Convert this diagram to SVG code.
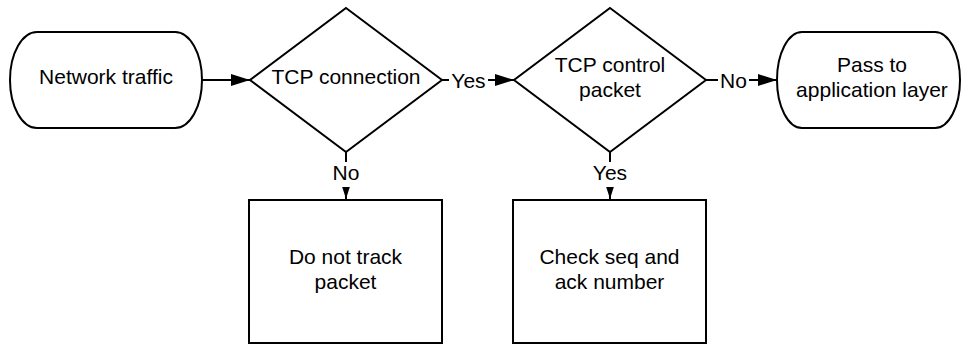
<svg xmlns="http://www.w3.org/2000/svg" width="962" height="346" viewBox="0 0 962 346">
  <defs>
    <marker id="arrow" viewBox="0 0 19 12" refX="19" refY="6" markerWidth="19" markerHeight="12" markerUnits="userSpaceOnUse" orient="auto">
      <path d="M0,0 L19,6 L0,12 z" fill="#000"/>
    </marker>
  </defs>
  <style>
    .shape { fill: #fff; stroke: #000; stroke-width: 2; }
    .edge { fill: none; stroke: #000; stroke-width: 2; marker-end: url(#arrow); }
    .label-bg { fill: #fff; stroke: none; }
    text { font-family: "Liberation Sans", Arial, sans-serif; font-size: 21px; fill: #000; text-anchor: middle; }
  </style>
  <rect width="962" height="346" fill="#fff"/>

  <!-- connectors with their labels -->
  <g id="connectors">
    <line class="edge" x1="202" y1="80" x2="250" y2="80"/>

    <line class="edge" x1="442" y1="80" x2="514" y2="80"/>
    <rect class="label-bg" x="449" y="68" width="39" height="24"/>
    <text x="468.5" y="88">Yes</text>

    <line class="edge" x1="706" y1="80" x2="777" y2="80"/>
    <rect class="label-bg" x="718" y="68" width="31" height="24"/>
    <text x="733.5" y="88">No</text>

    <line class="edge" x1="346" y1="152" x2="346" y2="199"/>
    <rect class="label-bg" x="328" y="162" width="36" height="25"/>
    <text x="346" y="180">No</text>

    <line class="edge" x1="610" y1="152" x2="610" y2="199"/>
    <rect class="label-bg" x="590" y="162" width="40" height="25"/>
    <text x="610" y="180">Yes</text>
  </g>

  <g id="network-traffic">
    <rect class="shape" x="10" y="32" width="192" height="96" rx="27" ry="48"/>
    <text x="106" y="84">Network traffic</text>
  </g>

  <g id="tcp-connection">
    <polygon class="shape" points="346,8 442,80 346,152 250,80"/>
    <text x="346" y="84">TCP connection</text>
  </g>

  <g id="tcp-control-packet">
    <polygon class="shape" points="610,8 706,80 610,152 514,80"/>
    <text x="610" y="72">TCP control</text>
    <text x="610" y="96.5">packet</text>
  </g>

  <g id="pass-to-application">
    <rect class="shape" x="777" y="32" width="183" height="96" rx="25" ry="48"/>
    <text x="872" y="72">Pass to</text>
    <text x="872" y="96.5">application layer</text>
  </g>

  <g id="do-not-track">
    <rect class="shape" x="249" y="200" width="193" height="143"/>
    <text x="345.5" y="264">Do not track</text>
    <text x="345.5" y="288.5">packet</text>
  </g>

  <g id="check-seq-ack">
    <rect class="shape" x="513" y="200" width="193" height="143"/>
    <text x="609.5" y="264">Check seq and</text>
    <text x="609.5" y="288.5">ack number</text>
  </g>
</svg>
